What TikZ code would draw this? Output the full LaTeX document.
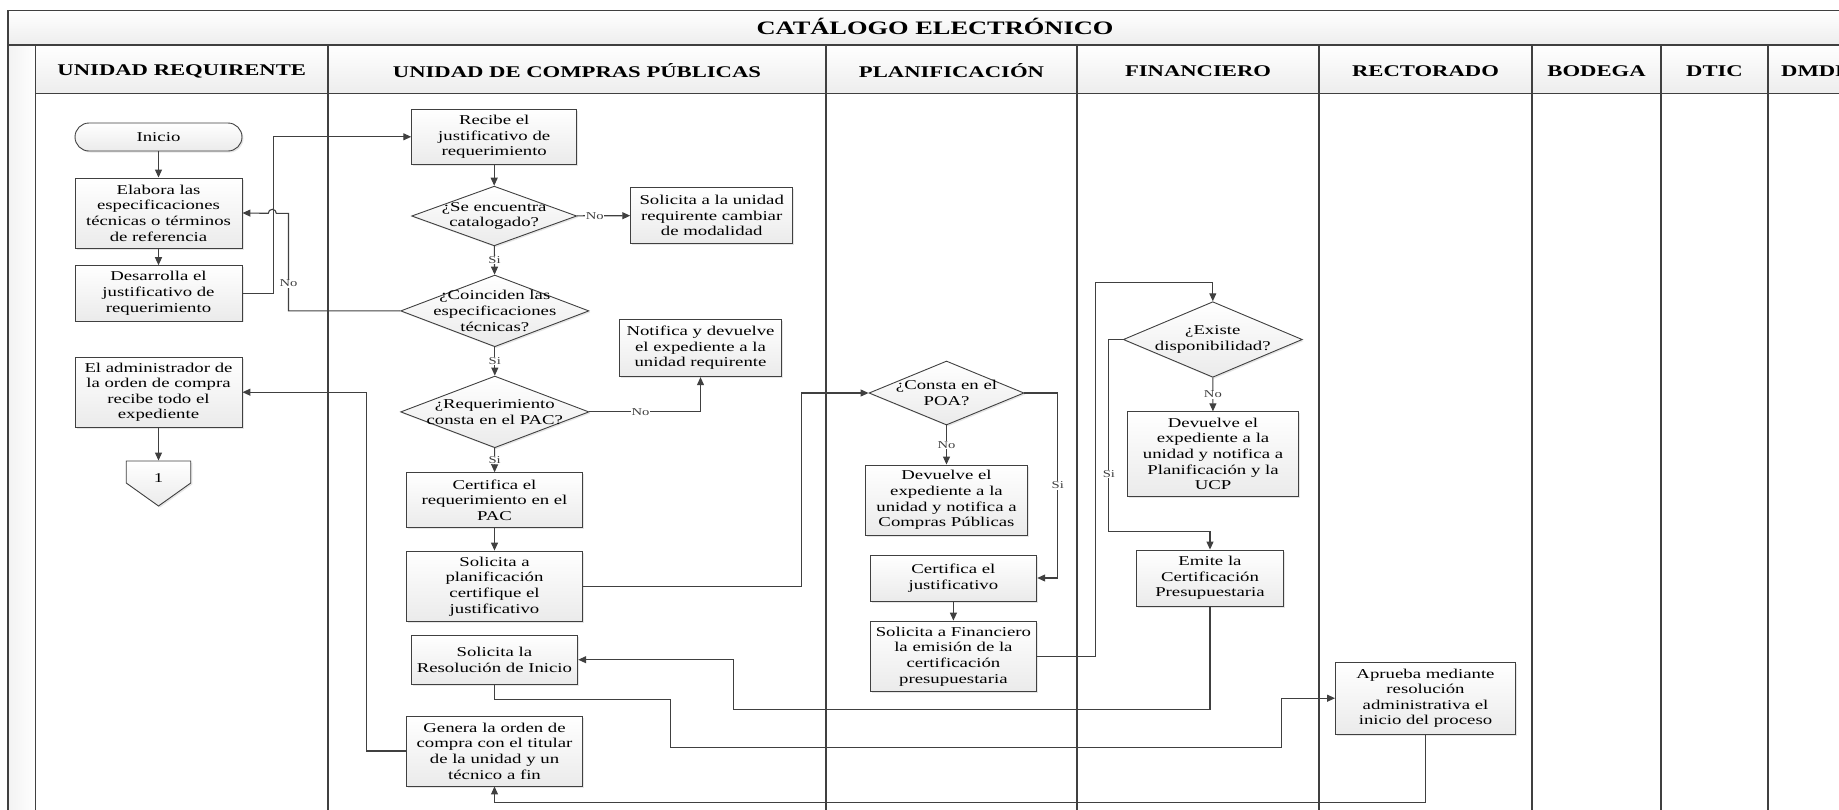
\documentclass[tikz,border=0pt]{standalone}
\usepackage{fontspec}
\setmainfont[FakeStretch=1.39]{Liberation Serif}
\usetikzlibrary{positioning,calc,arrows.meta,shapes.geometric,shapes.symbols,shadows}

\definecolor{linegray}{HTML}{404040}

\tikzset{sz/.style 2 args={minimum width=#1pt, minimum height=#2pt}}

\begin{document}
\begin{tikzpicture}[x=1pt, y=1pt, >={Triangle[length=8pt,width=7pt]}]
	\useasboundingbox (0,0) rectangle (1839,-809);
	\clip (0,0) rectangle (1839,-809);

	% frame, title band and lane headers
	\shade[top color=white, bottom color=gray!14] (8,-10.7) rectangle (1850,-45);
	\shade[left color=gray!10, right color=white] (8,-45) rectangle (35.6,-820);
	\shade[top color=white, bottom color=gray!14] (35.6,-45) rectangle (1850,-93.3);
	\draw[linegray, line width=1.1pt] (8,-820) -- (8,-10.7) -- (1850,-10.7);
	\draw[linegray, line width=1.1pt] (8,-45) -- (1850,-45);
	\draw[linegray, line width=1.1pt] (35.6,-93.3) -- (1850,-93.3);
	\foreach \x in {35.6, 328, 826, 1077, 1319, 1532, 1661, 1768}
		\draw[linegray, line width=1.1pt] (\x,-45) -- (\x,-820);

	\tikzstyle{every node}=[align=center, inner sep=1pt, font=\fontsize{13.5}{15.6}\selectfont]
	\tikzstyle{lane}=[font=\bfseries\fontsize{16.3}{18}\selectfont]
	\tikzstyle{proc}=[draw=linegray, line width=0.9pt, top color=white, bottom color=gray!16,
		drop shadow={shadow xshift=1.5pt, shadow yshift=-1.5pt, opacity=0.2}]
	\tikzstyle{dec}=[proc, diamond, inner sep=0pt]
	\tikzstyle{lbl}=[fill=white, inner sep=0.5pt, font=\fontsize{10.5}{12}\selectfont]
	\tikzstyle{flow}=[->, linegray, line width=1.1pt]

	\node[font=\bfseries\fontsize{19}{21}\selectfont] (title) at (935,-26.4) {CATÁLOGO ELECTRÓNICO};
	\node[lane] (hur) at (181.8,-71) {UNIDAD REQUIRENTE};
	\node[lane] (hucp) at (577,-71) {UNIDAD DE COMPRAS PÚBLICAS};
	\node[lane] (hpla) at (951.5,-71) {PLANIFICACIÓN};
	\node[lane] (hfin) at (1198,-71) {FINANCIERO};
	\node[lane] (hrec) at (1425.5,-71) {RECTORADO};
	\node[lane] (hbod) at (1596.5,-71) {BODEGA};
	\node[lane] (hdtic) at (1714.5,-71) {DTIC};
	\node[lane, anchor=west] (hdmd) at (1780,-71) {DMDE};

	% unidad requirente
	\node[proc, sz={167}{28}, rounded corners=14pt] (ini) at (158.5,-137) {Inicio};
	\node[proc, sz={167}{70}] (elab) at (158.5,-213) {Elabora las\\especificaciones\\técnicas o términos\\de referencia};
	\node[proc, sz={167}{55.3}] (desa) at (158.5,-293.3) {Desarrolla el\\justificativo de\\requerimiento};
	\node[proc, sz={167}{70}] (admin) at (158.5,-392.2) {El administrador de\\la orden de compra\\recibe todo el\\expediente};
	\node[proc, signal, signal to=south, signal pointer angle=109, sz={64.5}{22}, inner sep=0pt,
		label={[yshift=-6pt]center:1}] (con1) at (158.5,-472) {};

	% unidad de compras publicas
	\node[proc, sz={165}{55}] (recibe) at (494.2,-136.8) {Recibe el\\justificativo de\\requerimiento};
	\node[dec, sz={165}{59.7}, label={center:{¿Se encuentra\\catalogado?}}] (cat) at (494.2,-216) {};
	\node[proc, sz={162}{55.6}] (camb) at (711.7,-215.5) {Solicita a la unidad\\requirente cambiar\\de modalidad};
	\node[dec, sz={188.3}{71.7}, label={center:{¿Coinciden las\\especificaciones\\técnicas?}}] (coin) at (494.8,-310.9) {};
	\node[proc, sz={162.4}{57.4}] (notif) at (700.5,-348) {Notifica y devuelve\\el expediente a la\\unidad requirente};
	\node[dec, sz={188.3}{71.7}, label={center:{¿Requerimiento\\consta en el PAC?}}] (pac) at (494.8,-411.9) {};
	\node[proc, sz={175.6}{55}] (certpac) at (494.5,-500.2) {Certifica el\\requerimiento en el\\PAC};
	\node[proc, sz={175.6}{70.7}] (solplan) at (494.5,-586.4) {Solicita a\\planificación\\certifique el\\justificativo};
	\node[proc, sz={166.7}{49.3}] (solres) at (494.4,-659.7) {Solicita la\\Resolución de Inicio};
	\node[proc, sz={175.6}{70}] (gen) at (494.5,-751) {Genera la orden de\\compra con el titular\\de la unidad y un\\técnico a fin};

	% planificacion
	\node[dec, sz={155}{64}, label={center:{¿Consta en el\\POA?}}] (poa) at (946.5,-393) {};
	\node[proc, sz={161.6}{70}] (devpla) at (946.5,-500) {Devuelve el\\expediente a la\\unidad y notifica a\\Compras Públicas};
	\node[proc, sz={166.7}{46}] (certjus) at (953.4,-578) {Certifica el\\justificativo};
	\node[proc, sz={166.7}{70.7}] (solfin) at (953.4,-656.4) {Solicita a Financiero\\la emisión de la\\certificación\\presupuestaria};

	% financiero
	\node[dec, sz={179}{75.6}, label={center:{¿Existe\\disponibilidad?}}] (disp) at (1212.8,-339.5) {};
	\node[proc, sz={170.6}{84.3}] (devfin) at (1213,-453.9) {Devuelve el\\expediente a la\\unidad y notifica a\\Planificación y la\\UCP};
	\node[proc, sz={146.6}{56}] (emite) at (1210,-578) {Emite la\\Certificación\\Presupuestaria};

	% rectorado
	\node[proc, sz={180}{71.7}] (aprueba) at (1425.5,-698.2) {Aprueba mediante\\resolución\\administrativa el\\inicio del proceso};

	% flujo
	\draw[flow] (ini) -- (elab);
	\draw[flow] (elab) -- (desa);
	\draw[flow] (desa.east) -- ++(30.8,0) |- (recibe.west);
	\draw[flow] (admin) -- (con1);
	\draw[flow] (recibe) -- (cat);
	\draw[flow] (cat) -- node[lbl, pos=0.34] {No} (camb);
	\draw[flow] (cat) -- node[lbl] {Si} (coin);
	\draw[flow] (coin.west) -- ++(-111.7,0) -- node[lbl, pos=0.28] {No} ++(0,97.6)
		-- ++(-12.2,0) arc[start angle=0, end angle=180, radius=4pt] -- (elab.east);
	\draw[flow] (coin) -- node[lbl] {Si} (pac);
	\draw[flow] (pac.east) -| node[lbl, pos=0.23] {No} (notif.south);
	\draw[flow] (pac) -- node[lbl] {Si} (certpac);
	\draw[flow] (certpac) -- (solplan);
	\draw[flow] (solplan.east) -- ++(218.4,0) |- (poa.west);
	\draw[flow] (poa) -- node[lbl] {No} (devpla);
	\draw[flow] (poa.east) -- ++(33.3,0) |- node[lbl, pos=0.25] {Si} (certjus.east);
	\draw[flow] (certjus) -- (solfin);
	\draw[flow] (solfin.east) -- ++(58.3,0) -- ++(0,373.7) -| (disp.north);
	\draw[flow] (disp) -- node[lbl] {No} (devfin);
	\draw[flow] (disp.west) -- ++(-14,0) -- node[lbl, pos=0.7] {Si} ++(0,-192.2) -| (emite.north);
	\draw[flow] (emite.south) -- ++(0,-103.3) -- ++(-476.7,0) |- (solres.east);
	\draw[flow] (solres.south) -- ++(0,-15) -- ++(176.3,0) -- ++(0,-47.4) -- ++(611,0) |- (aprueba.west);
	\draw[flow] (aprueba.south) -- ++(0,-67.7) -| (gen.south);
	\draw[flow] (gen.west) -- ++(-39.7,0) |- (admin.east);
\end{tikzpicture}
\end{document}
